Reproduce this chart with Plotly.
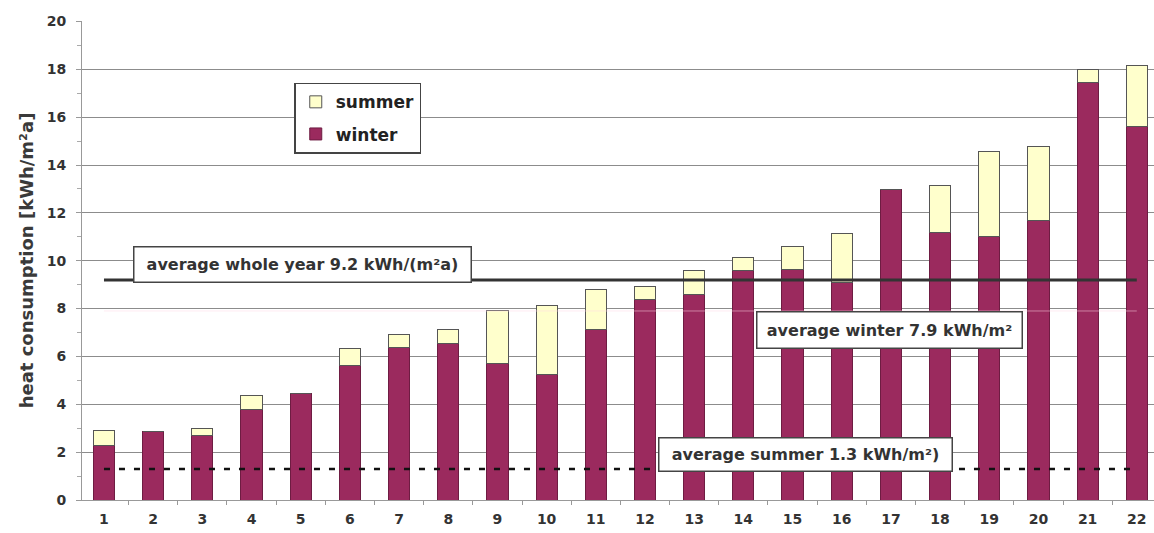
import plotly.graph_objects as go

# ---- data ----
buildings = list(range(1, 23))
winter = [2.29, 2.85, 2.68, 3.80, 4.46, 5.64, 6.38, 6.55, 5.69, 5.25, 7.14,
          8.40, 8.58, 9.60, 9.62, 9.07, 12.97, 11.16, 11.03, 11.70, 17.44, 15.60]
summer = [0.61, 0.00, 0.32, 0.55, 0.00, 0.71, 0.54, 0.58, 2.23, 2.89, 1.64,
          0.52, 1.00, 0.52, 0.98, 2.05, 0.00, 1.98, 3.52, 3.08, 0.56, 2.55]
avg_year = 9.2
avg_winter = 7.9
avg_summer = 1.3
y_ticks = [0, 2, 4, 6, 8, 10, 12, 14, 16, 18, 20]

WINTER_C = "#9b2a5e"
SUMMER_C = "#ffffcc"
FONT = "DejaVu Sans, Verdana, sans-serif"
TXT = "#333333"

fig = go.Figure()
fig.add_trace(go.Bar(
    x=buildings, y=winter, name="<b>winter</b>", legendrank=2, legendgroup="w",
    marker=dict(color=WINTER_C, line=dict(color="#6e1c42", width=1)),
    width=0.43,
))
fig.add_trace(go.Bar(
    x=buildings, y=summer, name="<b>summer</b>", legendrank=1, legendgroup="s",
    marker=dict(color=SUMMER_C, line=dict(color="#555555", width=1)),
    width=0.43,
))

# average lines
fig.add_trace(go.Scatter(
    x=[buildings[0], buildings[-1]], y=[avg_winter, avg_winter], mode="lines",
    line=dict(color="rgba(255,215,230,0.5)", width=1), showlegend=False, hoverinfo="skip"))
fig.add_trace(go.Scatter(
    x=[buildings[0], buildings[-1]], y=[avg_year, avg_year], mode="lines",
    line=dict(color="#333333", width=3), showlegend=False, hoverinfo="skip"))
fig.add_trace(go.Scatter(
    x=[buildings[0], buildings[-1]], y=[avg_summer, avg_summer], mode="lines",
    line=dict(color="#111111", width=2.5, dash="6px,9px"), showlegend=False, hoverinfo="skip"))

box_font = dict(family=FONT, size=16, color=TXT)
fig.add_annotation(x=5.04, y=9.85, xref="x", yref="y",
                   text="<b>average whole year %.1f kWh/(m²a)</b>" % avg_year,
                   showarrow=False, font=box_font, bgcolor="white",
                   bordercolor="#444444", borderwidth=1.5, borderpad=0,
                   width=336, height=34)
fig.add_annotation(x=16.98, y=7.12, xref="x", yref="y",
                   text="<b>average winter %.1f kWh/m²</b>" % avg_winter,
                   showarrow=False, font=box_font, bgcolor="white",
                   bordercolor="#444444", borderwidth=1.5, borderpad=0,
                   width=264, height=35)
fig.add_annotation(x=15.27, y=1.9, xref="x", yref="y",
                   text="<b>average summer %.1f kWh/m²)</b>" % avg_summer,
                   showarrow=False, font=box_font, bgcolor="white",
                   bordercolor="#444444", borderwidth=1.5, borderpad=0,
                   width=292, height=32)

fig.update_layout(
    barmode="stack",
    width=1154, height=533,
    margin=dict(l=82, r=0, t=21, b=33),
    paper_bgcolor="white", plot_bgcolor="white",
    font=dict(family=FONT, color=TXT),
    legend=dict(x=0.198, y=0.871, xanchor="left", yanchor="top",
                traceorder="grouped", tracegroupgap=7,
                bordercolor="#444444", borderwidth=1.5, bgcolor="white",
                font=dict(family=FONT, size=17, color="#222222"),
                itemwidth=30),
    xaxis=dict(range=[0.553, 22.35], tickmode="array", tickvals=buildings,
               ticktext=["<b>%d</b>" % b for b in buildings],
               tickfont=dict(family=FONT, size=14, color=TXT),
               showgrid=False, zeroline=False, showline=True, linecolor="#999999",
               ticks="", ticklabelstandoff=6,
               minor=dict(tick0=0.5, dtick=1, ticks="outside", ticklen=4,
                          tickcolor="#999999")),
    yaxis=dict(range=[0, 20.02], tickmode="array", tickvals=y_ticks,
               ticktext=["<b>%d</b>" % v for v in y_ticks],
               tickfont=dict(family=FONT, size=14, color=TXT),
               showgrid=True, gridcolor="#8c8c8c", gridwidth=1,
               zeroline=False, showline=True, linecolor="#999999",
               ticks="outside", ticklen=5, tickcolor="#999999",
               minor=dict(dtick=1, ticks="outside", ticklen=4, tickcolor="#aaaaaa",
                          showgrid=False),
               ticklabelstandoff=7,
               title=dict(text="<b>heat consumption [kWh/m²a]</b>", standoff=8,
                          font=dict(family=FONT, size=18, color="#3a3a3a"))),
)

fig.write_html("out.html", config={"displayModeBar": False},
               post_script="document.body.style.margin='0';")
